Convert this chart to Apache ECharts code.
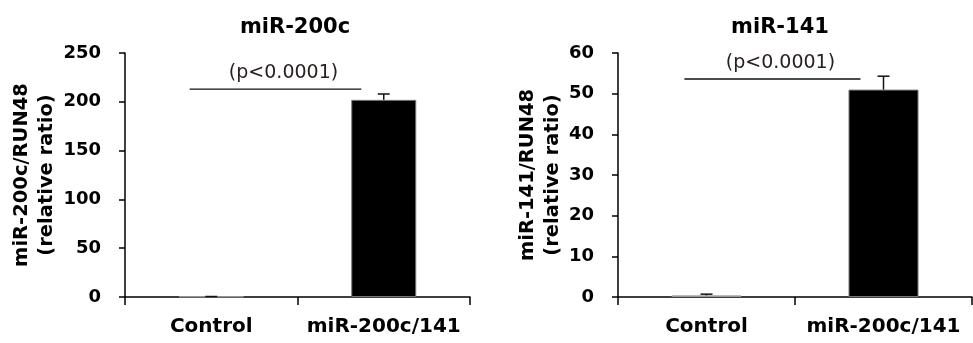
<!DOCTYPE html>
<html>
<head>
<meta charset="utf-8">
<script src="https://cdn.jsdelivr.net/npm/echarts@6/dist/echarts.min.js"></script>
<style>
  html, body { margin: 0; padding: 0; background: #fff; }
  #chart { width: 973px; height: 343px; }
</style>
</head>
<body>
<div id="chart"></div>
<script>
// 数据
const categories = ["Control", "miR-200c/141"];
const titles = ["miR-200c", "miR-141"];
const yNames = ["miR-200c/RUN48\n(relative ratio)", "miR-141/RUN48\n(relative ratio)"];
const yMax = [250, 60];
const yStep = [50, 10];

const mir200cMean = [0.5, 202];
const mir200cUpper = [0.5, 208];
const mir141Mean = [0.4, 51];
const mir141Upper = [0.7, 54.3];

const pText = "(p<0.0001)";
const sigLevel = [213, 53.6];

const FONT = "DejaVu Sans";
const chart = echarts.init(document.getElementById("chart"));

// 误差线（只画上半部分）
const errorRender = (params, api) => {
  const x = api.value(0);
  const top = api.coord([x, api.value(2)]);
  const base = api.coord([x, api.value(1)]);
  const half = 6;
  return {
    type: "group",
    children: [
      { type: "line", shape: { x1: base[0], y1: base[1], x2: top[0], y2: top[1] }, style: { stroke: "#111", lineWidth: 1.5 } },
      { type: "line", shape: { x1: top[0] - half, y1: top[1], x2: top[0] + half, y2: top[1] }, style: { stroke: "#111", lineWidth: 1.5 } },
    ],
  };
};

// 显著性横线和文字
const sigRender = (params, api) => {
  const bw = api.size([1, 0])[0];
  const p0 = api.coord([0, api.value(0)]);
  const p1 = api.coord([1, api.value(0)]);
  const x1 = p0[0] - 0.125 * bw;
  const x2 = p1[0] - 0.13 * bw;
  return {
    type: "group",
    children: [
      { type: "line", shape: { x1: x1, y1: p0[1], x2: x2, y2: p0[1] }, style: { stroke: "#111", lineWidth: 1.4 } },
      {
        type: "text",
        x: (x1 + x2) / 2 + 8,
        y: p0[1] - 16,
        style: { text: pText, fill: "#2a2020", font: "19px " + FONT, align: "center", verticalAlign: "middle" },
      },
    ],
  };
};

const grids = [
  { left: 125, right: 503, top: 53, bottom: 46 },
  { left: 618, right: 1, top: 53, bottom: 46 },
];

const titleCenters = [290, 775];
const nameGaps = [54, 53];
const barWidths = [65, 70];
const means = [mir200cMean, mir141Mean];
const uppers = [mir200cUpper, mir141Upper];

const series = [];
[0, 1].forEach((i) => {
  series.push({
    type: "bar",
    xAxisIndex: i,
    yAxisIndex: i,
    barWidth: barWidths[i],
    data: means[i].map((v, k) => ({
      value: v,
      itemStyle: k === 0
        ? { color: "#d8d8d8", borderColor: "#999", borderWidth: 1 }
        : { color: "#000", borderColor: "#777", borderWidth: 1 },
    })),
    silent: true,
    z: 2,
  });
  series.push({
    type: "custom",
    xAxisIndex: i,
    yAxisIndex: i,
    renderItem: errorRender,
    data: means[i].map((v, k) => [k, v, uppers[i][k]]),
    silent: true,
    z: 3,
  });
  series.push({
    type: "custom",
    xAxisIndex: i,
    yAxisIndex: i,
    renderItem: sigRender,
    data: [[sigLevel[i]]],
    encode: { y: 0 },
    silent: true,
    z: 4,
  });
});

const option = {
  backgroundColor: "#fff",
  animation: false,
  title: [0, 1].map((i) => ({
    text: titles[i],
    left: titleCenters[i],
    top: 12,
    textAlign: "center",
    textStyle: { fontFamily: FONT, fontWeight: "bold", fontSize: 21, color: "#000" },
  })),
  grid: grids,
  xAxis: [0, 1].map((i) => ({
    type: "category",
    gridIndex: i,
    data: categories,
    axisLine: { lineStyle: { color: "#000", width: 1.5 } },
    axisTick: { show: true, length: 8, lineStyle: { color: "#000", width: 1.5 } },
    axisLabel: { interval: 0, hideOverlap: false, fontFamily: FONT, fontWeight: "bold", fontSize: 20, color: "#000", margin: 20 },
  })),
  yAxis: [0, 1].map((i) => ({
    type: "value",
    gridIndex: i,
    min: 0,
    max: yMax[i],
    interval: yStep[i],
    name: yNames[i],
    nameLocation: "middle",
    nameRotate: 90,
    nameGap: nameGaps[i],
    nameTextStyle: { fontFamily: FONT, fontWeight: "bold", fontSize: 19.5, lineHeight: 25, color: "#000" },
    axisLine: { show: true, lineStyle: { color: "#000", width: 1.5 } },
    axisTick: { show: true, length: 6, lineStyle: { color: "#000", width: 1.5 } },
    splitLine: { show: false },
    axisLabel: { fontFamily: FONT, fontWeight: "bold", fontSize: 18, color: "#000", margin: 24 },
  })),
  series: series,
};

chart.setOption(option);
</script>
</body>
</html>
